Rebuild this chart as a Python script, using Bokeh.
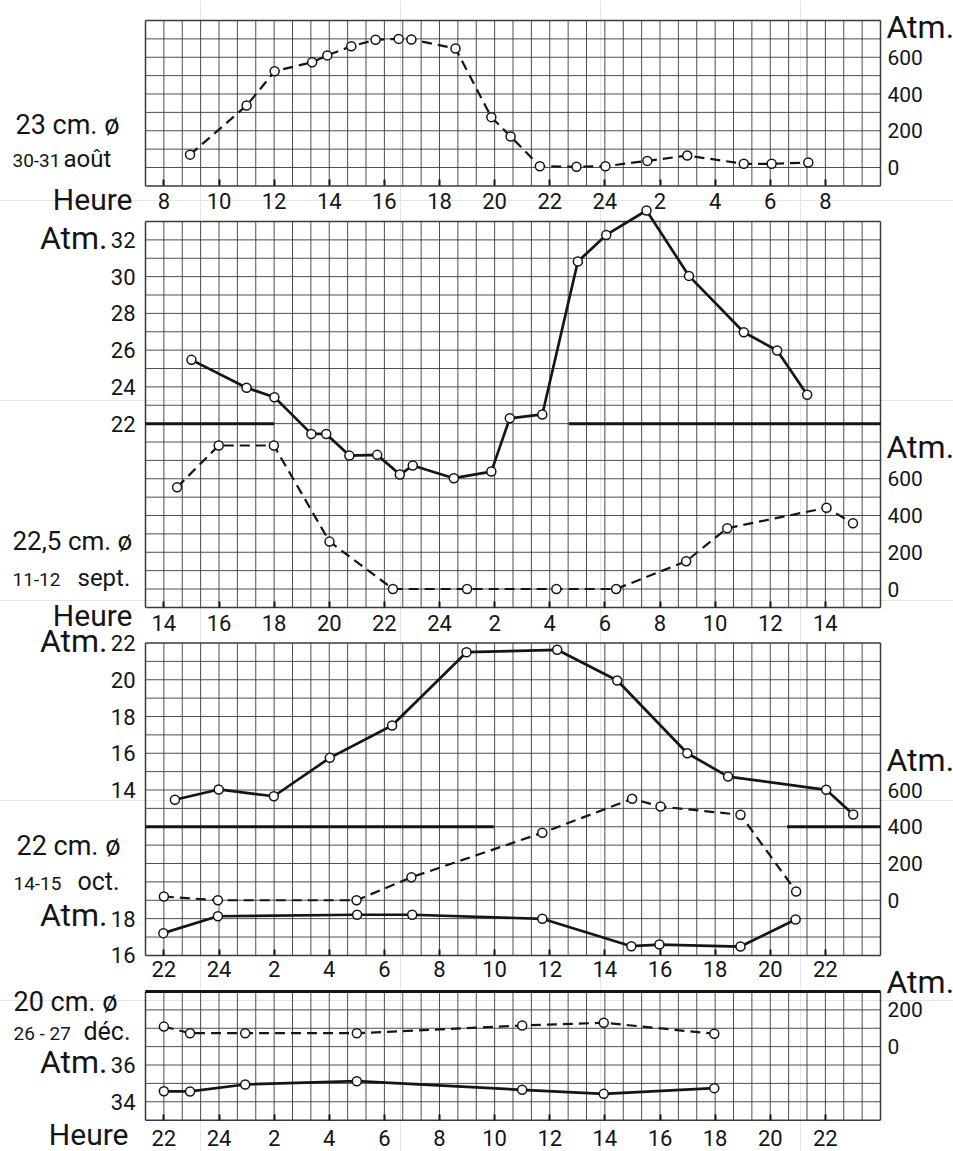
import numpy as np
from bokeh.plotting import figure
from bokeh.models import Range1d, LinearAxis, FixedTicker, Label, ColumnDataSource
from bokeh.embed import file_html
from bokeh.resources import INLINE

# ---------------- data ----------------
# Panel 1 - 23 cm, 30-31 août : pressure (Atm., right scale), dashed
p1_hour = [8.95, 11.0, 12.02, 13.38, 13.93, 14.8, 15.68, 16.52, 16.98, 18.58,
           19.88, 20.58, 21.64, 22.97, 24.02, 25.54, 26.99, 29.04, 30.05, 31.38]
p1_atm = [70, 337, 524, 573, 610, 660, 695, 700, 697, 648,
          274, 169, 7, 4, 7, 36, 65, 20, 20, 27]

# Panel 2 - 22,5 cm, 11-12 sept.
p2_solid_hour = [15.0, 17.0, 18.01, 19.35, 19.89, 20.73, 21.74, 22.56, 23.03, 24.52,
                 25.88, 26.55, 27.73, 29.02, 30.05, 31.51, 33.05, 35.04, 36.25, 37.34]
p2_solid_atm = [25.47, 23.95, 23.44, 21.44, 21.44, 20.26, 20.30, 19.23, 19.72, 19.03,
                19.39, 22.29, 22.50, 30.82, 32.27, 33.6, 30.04, 26.97, 25.98, 23.57]
p2_dash_hour = [14.48, 15.99, 17.99, 20.01, 22.31, 25.0, 28.24, 30.41, 32.95, 34.44, 38.04, 39.0]
p2_dash_atm = [554, 781, 781, 258, 0, 0, 0, 0, 151, 331, 442, 358]
p2_break_atm = 22
p2_break_from = [None, 28.69]   # None = left edge of the grid
p2_break_to = [18.0, None]      # None = right edge of the grid

# Panel 3 - 22 cm, 14-15 oct.
p3_upper_hour = [22.40, 23.99, 25.99, 28.02, 30.28, 32.98, 36.27, 38.45, 40.99, 42.47, 46.03, 47.01]
p3_upper_atm = [13.47, 14.03, 13.66, 15.75, 17.51, 21.5, 21.63, 19.96, 16.0, 14.73, 14.01, 12.67]
p3_dash_hour = [22.0, 23.96, 28.99, 30.98, 35.73, 38.99, 40.02, 42.92, 44.94]
p3_dash_atm = [20, 0, 0, 125, 367, 552, 510, 465, 48]
p3_lower_hour = [21.98, 23.96, 29.01, 31.01, 35.73, 38.96, 39.98, 42.92, 44.92]
p3_lower_atm = [17.21, 18.13, 18.21, 18.21, 17.99, 16.5, 16.59, 16.48, 17.95]
p3_break_atm = 12
p3_break_from = [None, 44.61]
p3_break_to = [33.97, None]

# Panel 4 - 20 cm, 26-27 déc.
p4_hour = [22.0, 22.95, 24.95, 29.0, 35.0, 37.96, 41.97]
p4_dash_atm = [109, 73, 73, 73, 115, 130, 70]
p4_solid_atm = [34.57, 34.56, 34.94, 35.12, 34.65, 34.43, 34.74]

# tick values / labels
p1_hour_ticks = list(range(8, 33, 2))
p1_hour_labels = ["8", "10", "12", "14", "16", "18", "20", "22", "24", "2", "4", "6", "8"]
p2_hour_ticks = list(range(14, 39, 2))
p2_hour_labels = ["14", "16", "18", "20", "22", "24", "2", "4", "6", "8", "10", "12", "14"]
p34_hour_ticks = list(range(22, 47, 2))
p34_hour_labels = ["22", "24", "2", "4", "6", "8", "10", "12", "14", "16", "18", "20", "22"]
p1_right_ticks = [0, 200, 400, 600]
p2_left_ticks = [22, 24, 26, 28, 30, 32]
p2_right_ticks = [0, 200, 400, 600]
p3_upper_ticks = [14, 16, 18, 20, 22]
p3_right_ticks = [0, 200, 400, 600]
p3_lower_ticks = [16, 18]
p4_right_ticks = [0, 200]
p4_left_ticks = [34, 36]

# ---------------- layout ----------------
W, H = 953, 1151
GL, GR = 145, 880                 # left / right edge of the squared paper
CELL = (GR - GL) / 40.0
HPC = 2.0 / 3.0                   # hours per grid cell
PANELS = [(20.0, 9), (221.0, 21), (642.5, 17), (991.0, 7)]   # top (px), rows
FONT = "Roboto"
INK = "#151515"
GRID = "#3a3a3a"


def hour_range(first_tick):
    def h(xpx):
        return first_tick - HPC + (xpx - GL) / CELL * HPC
    return Range1d(start=h(0), end=h(W))


def value_range(top_px, top_value, per_row):
    def v(ypx):
        return top_value - (ypx - top_px) / CELL * per_row
    return Range1d(start=v(H), end=v(0))


# the frame covers the whole canvas; data ranges are mapped onto it
p = figure(width=W, height=H, x_range=Range1d(0, W), y_range=Range1d(H, 0),
           output_backend="svg", toolbar_location=None, tools="",
           x_axis_location=None, y_axis_location=None,
           min_border_left=0, min_border_right=0, min_border_top=0, min_border_bottom=0,
           outline_line_color=None, background_fill_color="white",
           border_fill_color="white")

p.extra_x_ranges = {"h1": hour_range(p1_hour_ticks[0]),
                    "h2": hour_range(p2_hour_ticks[0]),
                    "h34": hour_range(p34_hour_ticks[0])}
p.extra_y_ranges = {"a1": value_range(PANELS[0][0], 800, 100),
                    "a2L": value_range(PANELS[1][0], 33, 1),
                    "a2R": value_range(PANELS[1][0], 2000, 100),
                    "a3U": value_range(PANELS[2][0], 22, 1),
                    "a3R": value_range(PANELS[2][0], 1400, 100),
                    "a3Lo": value_range(PANELS[2][0], 33, 1),
                    "a4R": value_range(PANELS[3][0], 300, 100),
                    "a4L": value_range(PANELS[3][0], 40, 1)}

# ---- squared paper of each panel ----
g = dict(x0=[], y0=[], x1=[], y1=[], w=[])
for top, rows in PANELS:
    bottom = top + rows * CELL
    for k in range(41):
        x = GL + k * CELL
        g["x0"].append(x); g["x1"].append(x); g["y0"].append(top); g["y1"].append(bottom)
        g["w"].append(1.5 if k in (0, 40) else 0.9)
    for r in range(rows + 1):
        y = top + r * CELL
        g["x0"].append(GL); g["x1"].append(GR); g["y0"].append(y); g["y1"].append(y)
        g["w"].append(1.5 if r in (0, rows) else 0.9)
p.segment(x0="x0", y0="y0", x1="x1", y1="y1", line_width="w", line_color=GRID,
          source=ColumnDataSource(g))
# thick top edge of panel 4
p.segment(x0=[GL], y0=[PANELS[3][0]], x1=[GR], y1=[PANELS[3][0]], line_width=3, line_color=INK)


# ---- axis breaks (thick horizontal rules) ----
def breaks(xr, yr, level, x_from, x_to):
    first = {"h2": p2_hour_ticks[0], "h34": p34_hour_ticks[0]}[xr] - HPC
    last = first + 40 * HPC
    x0 = [first if a is None else a for a in x_from]
    x1 = [last if b is None else b for b in x_to]
    p.segment(x0=x0, y0=[level] * len(x0), x1=x1, y1=[level] * len(x0),
              line_width=3, line_color=INK, x_range_name=xr, y_range_name=yr)


breaks("h2", "a2L", p2_break_atm, p2_break_from, p2_break_to)
breaks("h34", "a3U", p3_break_atm, p3_break_from, p3_break_to)


# ---- series ----
def series(xs, ys, xr, yr, dashed):
    if dashed:
        p.line(xs, ys, x_range_name=xr, y_range_name=yr, line_color=INK, line_width=2.2,
               line_dash="10 6")
    else:
        p.line(xs, ys, x_range_name=xr, y_range_name=yr, line_color=INK, line_width=2.7)
    p.scatter(xs, ys, x_range_name=xr, y_range_name=yr, marker="circle", size=9,
              fill_color="white", line_color=INK, line_width=1.5)


series(p1_hour, p1_atm, "h1", "a1", True)
series(p2_solid_hour, p2_solid_atm, "h2", "a2L", False)
series(p2_dash_hour, p2_dash_atm, "h2", "a2R", True)
series(p3_upper_hour, p3_upper_atm, "h34", "a3U", False)
series(p3_dash_hour, p3_dash_atm, "h34", "a3R", True)
series(p3_lower_hour, p3_lower_atm, "h34", "a3Lo", False)
series(p4_hour, p4_dash_atm, "h34", "a4R", True)
series(p4_hour, p4_solid_atm, "h34", "a4L", False)


# ---- axes (fixed at the edges of each panel) ----
def style(ax, size):
    ax.axis_line_color = None
    ax.minor_tick_line_color = None
    ax.major_label_text_font = FONT
    ax.major_label_text_font_size = size
    ax.major_label_text_color = INK


def x_axis(xr, ticks, labels, panel, standoff):
    top, rows = PANELS[panel]
    ax = LinearAxis(x_range_name=xr, fixed_location=top + rows * CELL,
                    ticker=FixedTicker(ticks=ticks),
                    major_label_overrides={t: s for t, s in zip(ticks, labels)})
    style(ax, "22px")
    ax.major_tick_in = 6
    ax.major_tick_out = 0
    ax.major_tick_line_width = 2
    ax.major_tick_line_color = INK
    ax.major_label_standoff = standoff
    p.add_layout(ax, "below")


def y_axis(side, yr, ticks, standoff, size="22px"):
    ax = LinearAxis(y_range_name=yr, fixed_location=GL if side == "left" else GR,
                    ticker=FixedTicker(ticks=ticks))
    style(ax, size)
    ax.major_tick_in = 0
    ax.major_tick_out = 0
    ax.major_tick_line_color = None
    ax.major_label_standoff = standoff
    p.add_layout(ax, side)


x_axis("h1", p1_hour_ticks, p1_hour_labels, 0, 7)
x_axis("h2", p2_hour_ticks, p2_hour_labels, 1, 8)
x_axis("h34", p34_hour_ticks, p34_hour_labels, 2, 6)
x_axis("h34", p34_hour_ticks, p34_hour_labels, 3, 10)

y_axis("right", "a1", p1_right_ticks, 7, "21px")
y_axis("left", "a2L", p2_left_ticks, 10)
y_axis("right", "a2R", p2_right_ticks, 7, "21px")
y_axis("left", "a3U", p3_upper_ticks, 10)
y_axis("right", "a3R", p3_right_ticks, 7, "21px")
y_axis("left", "a3Lo", p3_lower_ticks, 10)
y_axis("right", "a4R", p4_right_ticks, 7, "21px")
y_axis("left", "a4L", p4_left_ticks, 10)


# ---- texts (x, baseline in px) ----
def text(x, base, s, size, align="left"):
    # a Label is centred vertically on y: shift so that the baseline lands on `base`
    p.add_layout(Label(x=x, y=base - 0.37 * size, text=s, text_font=FONT,
                       text_font_size=f"{size}px", text_color=INK,
                       text_align=align, text_baseline="alphabetic"))


# panel 1
text(886, 38, "Atm.", 32)
text(15, 134, "23 cm. ø", 27)
text(12, 167, "30-31", 19)
text(63, 167, "août", 24)
text(132, 210.5, "Heure", 30, "right")
# panel 2
text(107, 249.5, "Atm.", 32, "right")
text(886, 458, "Atm.", 32)
text(12, 550.5, "22,5 cm. ø", 26)
text(12, 586.5, "11-12", 19)
text(77, 586.5, "sept.", 24)
text(132, 626, "Heure", 30, "right")
# panel 3
text(107, 652, "Atm.", 32, "right")
text(886, 771.5, "Atm.", 32)
text(16, 855, "22 cm. ø", 27)
text(13, 890, "14-15", 19)
text(77, 890, "oct.", 25)
text(107, 926.5, "Atm.", 32, "right")
# panel 4
text(886, 993, "Atm.", 32)
text(13, 1011.5, "20 cm. ø", 27)
text(13, 1040, "26 - 27", 19)
text(83, 1040, "déc.", 25)
text(107, 1073, "Atm.", 32, "right")
text(128, 1145, "Heure", 30, "right")

open("out.html", "w").write(file_html(p, INLINE))
